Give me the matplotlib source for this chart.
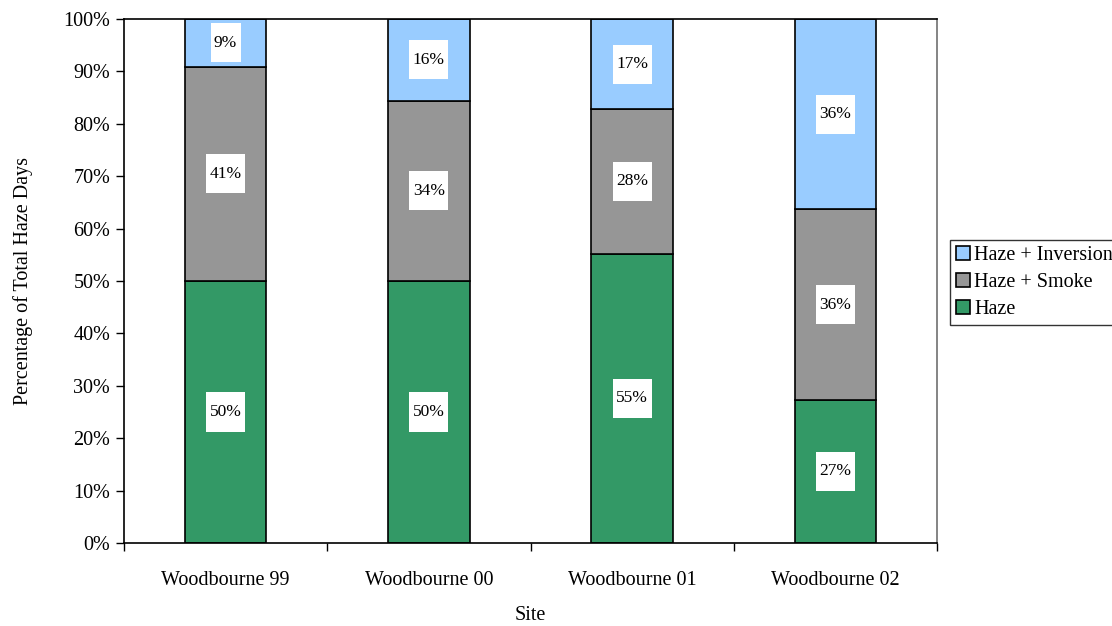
import matplotlib
matplotlib.use("Agg")
import matplotlib.pyplot as plt
import numpy as np

sites = ["Woodbourne 99", "Woodbourne 00", "Woodbourne 01", "Woodbourne 02"]
haze = [50.0, 50.0, 55.2, 27.3]
haze_smoke = [40.9, 34.4, 27.6, 36.4]
haze_inversion = [9.1, 15.6, 17.2, 36.3]
series_names = ["Haze", "Haze + Smoke", "Haze + Inversion"]
colors = ["#339966", "#969696", "#99CCFF"]

plt.rcParams['font.family'] = ['Liberation Serif', 'DejaVu Serif']

fig = plt.figure(figsize=(11.12, 6.26), dpi=100)
ax = fig.add_axes([124/1112, 83/626, (937-124)/1112, (543-19)/626])

x = np.arange(len(sites))
bottom = np.zeros(len(sites))
handles = []
for vals, name, col in zip([haze, haze_smoke, haze_inversion], series_names, colors):
    vals = np.array(vals)
    b = ax.bar(x, vals, width=0.4, bottom=bottom, color=col, edgecolor='black', linewidth=1.2, label=name)
    handles.append(b)
    for xi, v, bt in zip(x, vals, bottom):
        ax.text(xi, bt + v/2, f"\n{v:.0f}%\n", ha='center', va='center', fontsize=12.5,
                linespacing=0.34, multialignment='center',
                bbox=dict(facecolor='white', edgecolor='none', boxstyle='square,pad=0.2'))
    bottom += vals

ax.set_xlim(-0.5, 3.5)
ax.set_ylim(0, 100)
ax.set_yticks(np.arange(0, 101, 10))
ax.set_yticklabels([f"{v}%" for v in range(0, 101, 10)], fontsize=14.5)
ax.set_xticks(np.arange(-0.5, 3.6, 1.0))
ax.set_xticklabels([])
ax.set_xticks(x, minor=True)
ax.set_xticklabels(sites, minor=True, fontsize=14.5)
ax.tick_params(axis='x', which='minor', length=0, pad=20)
ax.tick_params(axis='x', which='major', direction='out', length=6, width=1)
ax.tick_params(axis='y', direction='out', length=6, width=1, pad=4)
for s in ['left', 'bottom', 'top']:
    ax.spines[s].set_linewidth(1.2)
    ax.spines[s].set_color('black')
ax.spines['right'].set_color('#707070')
ax.spines['right'].set_linewidth(1.2)

ax.set_ylabel("Percentage of Total Haze Days", fontsize=14.5, labelpad=22)
ax.set_xlabel("Site", fontsize=14.5, labelpad=12)

leg = fig.legend(handles[::-1], series_names[::-1], loc='upper left',
                 bbox_to_anchor=(950/1112, (626-240)/626), bbox_transform=fig.transFigure,
                 borderaxespad=0, frameon=True, fancybox=False, fontsize=14.5,
                 handlelength=0.7, handleheight=0.7, handletextpad=0.2,
                 borderpad=0.3, labelspacing=0.38)
leg.get_frame().set_edgecolor('black')
leg.get_frame().set_linewidth(1.0)

fig.savefig("out.png", dpi=100)
